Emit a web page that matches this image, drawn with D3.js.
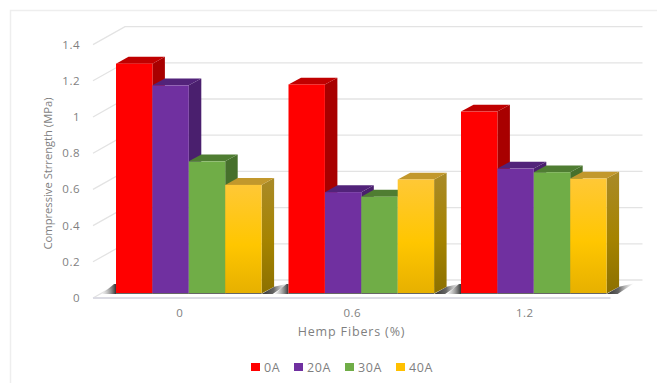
<!DOCTYPE html>
<html>
<head>
<meta charset="utf-8">
<script src="https://cdn.jsdelivr.net/npm/d3@7"></script>
<style>
  html, body { margin: 0; padding: 0; background: #fff; }
  svg { display: block; }
  text { font-family: "Open Sans", sans-serif; fill: #7f7f7f; }
</style>
</head>
<body>
<div id="chart"></div>
<script>
const categories = ["0", "0.6", "1.2"];
const seriesNames = ["0A", "20A", "30A", "40A"];
const values0A = [1.27, 1.155, 1.005];
const values20A = [1.15, 0.56, 0.69];
const values30A = [0.73, 0.535, 0.67];
const values40A = [0.6, 0.63, 0.635];
const yTicks = [0, 0.2, 0.4, 0.6, 0.8, 1, 1.2, 1.4];
const seriesValues = [values0A, values20A, values30A, values40A];

// front, side and top shades for each extruded bar
const shades = [
  { front: "#ff0000", side: "#a80000", top: "#c00000", key: "#ff0000" },
  { front: "#7030a0", side: "#4a1f6e", top: "#52237a", key: "#7030a0" },
  { front: "#70ad47", side: "#46702c", top: "#4f7d32", key: "#70ad47" },
  { front: "url(#goldFront)", side: "url(#goldSide)", top: "#c2982c", key: "#ffc000" }
];

const W = 657, H = 383;
const svg = d3.select("#chart").append("svg").attr("width", W).attr("height", H);
const defs = svg.append("defs");

function verticalGradient(id, stops) {
  const g = defs.append("linearGradient").attr("id", id)
    .attr("x1", 0).attr("y1", 0).attr("x2", 0).attr("y2", 1);
  stops.forEach(([o, c]) => g.append("stop").attr("offset", o).attr("stop-color", c));
}
verticalGradient("goldFront", [[0, "#ffc836"], [0.55, "#ffc600"], [1, "#e6b000"]]);
verticalGradient("goldSide", [[0, "#a98a28"], [0.55, "#a58300"], [1, "#8c7000"]]);

const shadowLeft = defs.append("linearGradient").attr("id", "shadowLeft")
  .attr("x1", 0).attr("y1", 0).attr("x2", 1).attr("y2", 0);
shadowLeft.append("stop").attr("offset", 0).attr("stop-color", "#bbbbbb").attr("stop-opacity", 0.2);
shadowLeft.append("stop").attr("offset", 1).attr("stop-color", "#333333").attr("stop-opacity", 1);
const shadowRight = defs.append("linearGradient").attr("id", "shadowRight")
  .attr("x1", 0).attr("y1", 0).attr("x2", 1).attr("y2", 0);
shadowRight.append("stop").attr("offset", 0).attr("stop-color", "#333333").attr("stop-opacity", 1);
shadowRight.append("stop").attr("offset", 0.45).attr("stop-color", "#555555").attr("stop-opacity", 0.9);
shadowRight.append("stop").attr("offset", 1).attr("stop-color", "#bbbbbb").attr("stop-opacity", 0.1);

// outer chart frame, open at the bottom and right
svg.append("path")
  .attr("d", `M10.5,${H} V10.5 H${W}`)
  .attr("fill", "none").attr("stroke", "#eeeeee").attr("stroke-width", 1.5);

// projection of the 3D box
const wallDx = 32, wallDy = -18;
const barDepthX = 12.5, barDepthY = -6.8;
const floorLeft = 93, floorRight = 610.5;
const axisY0 = 298, axisScale = 181;

const y = d3.scaleLinear().domain([0, 1.4]).range([axisY0, axisY0 - 1.4 * axisScale]);
const x = d3.scaleBand().domain(categories).range([floorLeft, floorRight]);
const barHeight = d3.scaleLinear().domain([0, 1.4]).range([0, 1.4 * axisScale]);
const barBase = 293.5;
const barInset = 23;
const barWidth = 36.4;

// gridlines: leader on the side wall, then across the back wall
const grid = svg.append("g").attr("fill", "none").attr("stroke", "#e3e3e3").attr("stroke-width", 1.3);
yTicks.forEach(t => {
  grid.append("path").attr("d",
    `M${floorLeft},${y(t)} L${floorLeft + wallDx},${y(t) + wallDy} H${floorRight + wallDx}`);
});

// floor edge along the front
svg.append("line")
  .attr("x1", floorLeft).attr("x2", floorRight)
  .attr("y1", axisY0).attr("y2", axisY0)
  .attr("stroke", "#dcdce4").attr("stroke-width", 2);

// y tick labels
svg.append("g").selectAll("text").data(yTicks).join("text")
  .attr("x", 80).attr("y", d => y(d) + 1)
  .attr("text-anchor", "end").attr("dominant-baseline", "middle")
  .attr("font-size", 11.5).style("letter-spacing", "0.5px")
  .text(d => d);

// cast shadows on the floor
categories.forEach(c => {
  const left = x(c) + barInset;
  const right = left + barWidth * seriesNames.length;
  svg.append("path")
    .attr("d", `M${left - 14},${barBase + 0.5} L${left - 2},${barBase - 9.5} H${left} V${barBase + 0.5} Z`)
    .attr("fill", "url(#shadowLeft)");
  svg.append("path")
    .attr("d", `M${right},${barBase + 0.5} L${right + barDepthX},${barBase + barDepthY} L${right + 27},${barBase - 10} L${right + 11},${barBase + 0.5} Z`)
    .attr("fill", "url(#shadowRight)");
});

// bars, left to right so each one overlaps the side of its neighbour
const bars = [];
categories.forEach((c, ci) => {
  seriesNames.forEach((s, si) => bars.push({ c, ci, si, v: seriesValues[si][ci] }));
});

const barLayer = svg.append("g");
bars.forEach(b => {
  const s = shades[b.si];
  const x0 = x(b.c) + barInset + b.si * barWidth;
  const x1 = x0 + barWidth;
  const top = barBase - barHeight(b.v);
  const g = barLayer.append("g");
  g.append("path")
    .attr("d", `M${x1},${top} L${x1 + barDepthX},${top + barDepthY} V${barBase + barDepthY} L${x1},${barBase} Z`)
    .attr("fill", s.side);
  g.append("path")
    .attr("d", `M${x0},${top} L${x0 + barDepthX},${top + barDepthY} H${x1 + barDepthX} L${x1},${top} Z`)
    .attr("fill", s.top);
  g.append("rect")
    .attr("x", x0).attr("y", top)
    .attr("width", barWidth).attr("height", barBase - top)
    .attr("fill", s.front);
  // thin contact line where the bar meets the floor
  g.append("line")
    .attr("x1", x0).attr("x2", x1)
    .attr("y1", barBase).attr("y2", barBase)
    .attr("stroke", "#666666").attr("stroke-width", 1);
});

// category labels
svg.append("g").selectAll("text").data(categories).join("text")
  .attr("x", d => x(d) + x.bandwidth() / 2 + 0.5).attr("y", 317)
  .attr("text-anchor", "middle")
  .attr("font-size", 11.5).style("letter-spacing", "0.5px")
  .text(d => d);

// axis titles
svg.append("text")
  .attr("x", 351.5).attr("y", 335.5)
  .attr("text-anchor", "middle")
  .attr("font-size", 12.5).style("letter-spacing", "0.85px")
  .text("Hemp Fibers (%)");

svg.append("text")
  .attr("transform", "translate(52,173.5) rotate(-90)")
  .attr("text-anchor", "middle")
  .attr("font-size", 11.2)
  .text("Compressive Strrength (MPa)");

// legend
const legendX = [251, 294, 345, 396];
const legend = svg.append("g");
seriesNames.forEach((name, i) => {
  legend.append("rect")
    .attr("x", legendX[i]).attr("y", 363)
    .attr("width", 9).attr("height", 8)
    .attr("fill", shades[i].key);
  legend.append("text")
    .attr("x", legendX[i] + 13).attr("y", 371.5)
    .attr("font-size", 12.5).style("letter-spacing", "0.6px")
    .text(name);
});
</script>
</body>
</html>
